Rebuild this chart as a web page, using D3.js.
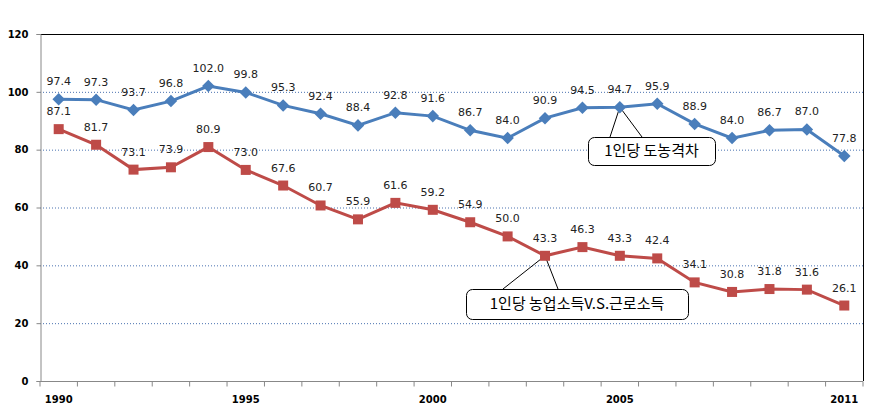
<!DOCTYPE html>
<html><head><meta charset="utf-8">
<script src="https://cdn.jsdelivr.net/npm/d3@7"></script>
<style>body{margin:0;background:#fff}svg{display:block}</style>
</head><body><svg id="c" width="881" height="419"></svg>
<script>
const years = [1990,1991,1992,1993,1994,1995,1996,1997,1998,1999,2000,2001,2002,2003,2004,2005,2006,2007,2008,2009,2010,2011];
const gapValues = [97.4,97.3,93.7,96.8,102.0,99.8,95.3,92.4,88.4,92.8,91.6,86.7,84.0,90.9,94.5,94.7,95.9,88.9,84.0,86.7,87.0,77.8];
const farmValues = [87.1,81.7,73.1,73.9,80.9,73.0,67.6,60.7,55.9,61.6,59.2,54.9,50.0,43.3,46.3,43.3,42.4,34.1,30.8,31.8,31.6,26.1];
const yTicks = [0,20,40,60,80,100,120];
const xLabels = [1990,1995,2000,2005,2011];
const gapName = "1인당 도농격차";
const farmName = "1인당 농업소득V.S.근로소득";

const svg = d3.select("#c");
const L=40, R=863, T=34, B=381;
const x = d3.scaleBand().domain(years).range([L,R]);
const y = d3.scaleLinear().domain([0,120]).range([B,T]);
const cx = d => x(d)+x.bandwidth()/2;

svg.append("g").selectAll("line").data(yTicks.filter(v=>v>0&&v<120)).join("line")
  .attr("x1",L).attr("x2",R).attr("y1",d=>y(d)+0.5).attr("y2",d=>y(d)+0.5)
  .attr("stroke","#4a72b0").attr("stroke-width",1).attr("stroke-dasharray","1,2");
svg.append("line").attr("x1",L).attr("x2",R+0.5).attr("y1",T+0.5).attr("y2",T+0.5).attr("stroke","#000");
svg.append("line").attr("x1",R+0.5).attr("x2",R+0.5).attr("y1",T).attr("y2",B).attr("stroke","#000");

const ya = svg.append("g").attr("transform",`translate(${L+0.5},0)`)
  .call(d3.axisLeft(y).tickValues(yTicks).tickSize(4).tickPadding(8).tickFormat(d3.format("d")));
ya.select(".domain").attr("stroke","#888");
ya.selectAll(".tick line").attr("stroke","#888");
ya.selectAll("text").attr("font-family","DejaVu Sans").attr("font-weight","bold").attr("font-size","10px").attr("fill","#000");

const xa = svg.append("g").attr("transform",`translate(0,${B+0.5})`);
xa.append("line").attr("x1",L).attr("x2",R).attr("stroke","#888");
xa.selectAll(".tk").data(d3.range(years.length+1)).join("line")
  .attr("x1",i=>L+i*x.step()).attr("x2",i=>L+i*x.step()).attr("y1",0).attr("y2",5).attr("stroke","#888");
xa.selectAll("text").data(xLabels).join("text")
  .attr("x",d=>cx(d)).attr("y",21).attr("text-anchor","middle")
  .attr("font-family","DejaVu Sans").attr("font-weight","bold").attr("font-size","10px").text(d=>d);

function callout(idx, vals, bx, by, bw, bh, p1, p2, txt){
  const px=cx(years[idx]), py=y(vals[idx]);
  svg.append("path").attr("d",`M${p1},${by} L${px},${py} L${p2},${by}`).attr("fill","none").attr("stroke","#000").attr("stroke-width",1);
  svg.append("rect").attr("x",bx+0.5).attr("y",by+0.5).attr("width",bw).attr("height",bh).attr("rx",6)
    .attr("fill","#fff").attr("stroke","#000");
  svg.append("text").attr("x",bx+bw/2).attr("y",by+bh/2+5).attr("text-anchor","middle")
    .attr("font-family","Noto Sans CJK KR").attr("font-size","15px").attr("fill","#000").text(txt);
}
callout(15, gapValues, 588, 137, 127, 28, 610, 642, gapName);
callout(13, farmValues, 466, 289, 222, 30, 503, 558, farmName);

const line = d3.line().x((d,i)=>cx(years[i])).y(d=>y(d));
const blue="#4A7EBB", red="#BE4B48";
svg.append("path").datum(gapValues).attr("d",line).attr("fill","none").attr("stroke",blue).attr("stroke-width",3);
svg.append("path").datum(farmValues).attr("d",line).attr("fill","none").attr("stroke",red).attr("stroke-width",3);

svg.append("g").selectAll("path").data(gapValues).join("path")
  .attr("d",d3.symbol(d3.symbolDiamond2,100)())
  .attr("transform",(d,i)=>`translate(${cx(years[i])},${y(d)})`).attr("fill",blue);
svg.append("g").selectAll("rect").data(farmValues).join("rect")
  .attr("x",(d,i)=>cx(years[i])-5).attr("y",d=>y(d)-5).attr("width",10).attr("height",10).attr("fill",red);

const lab = (vals)=>svg.append("g").selectAll("text").data(vals).join("text")
  .attr("x",(d,i)=>cx(years[i])).attr("y",d=>y(d)-14).attr("text-anchor","middle")
  .attr("font-family","DejaVu Sans").attr("font-size","11px").attr("fill","#222").text(d=>d.toFixed(1));
lab(gapValues); lab(farmValues);
</script></body></html>
